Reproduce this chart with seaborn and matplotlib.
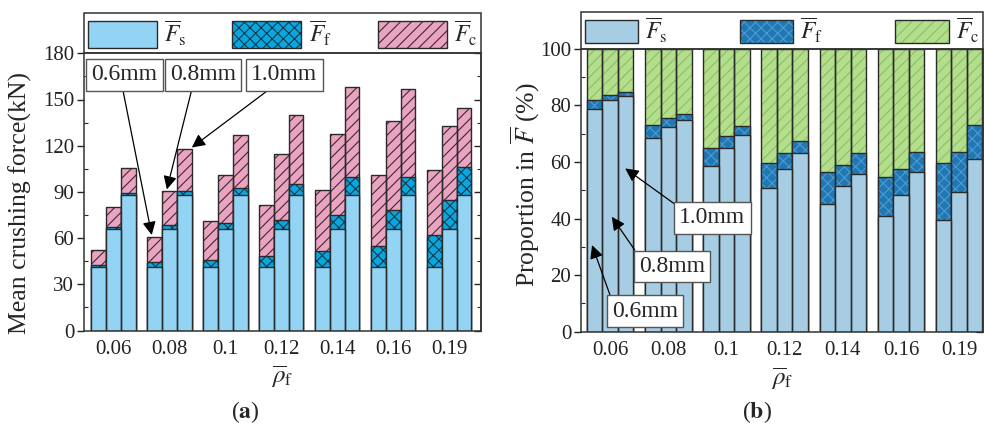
import numpy as np
import pandas as pd
import matplotlib
matplotlib.use("Agg")
import matplotlib.pyplot as plt
import seaborn as sns
from matplotlib.patches import Patch, Rectangle
from matplotlib.legend_handler import HandlerTuple
from matplotlib.ticker import MultipleLocator

# ---------------- data ----------------
rho_labels = ["0.06", "0.08", "0.1", "0.12", "0.14", "0.16", "0.19"]
thickness = ["0.6mm", "0.8mm", "1.0mm"]

# (a) mean crushing force components (kN)
Fs_a = {
    "0.6mm": [41.2, 41.2, 41.2, 41.2, 41.2, 41.2, 41.2],
    "0.8mm": [66.0, 66.0, 66.0, 66.0, 66.0, 66.0, 66.0],
    "1.0mm": [88.0, 88.0, 88.0, 88.0, 88.0, 88.0, 88.0],
}
Ff_a = {
    "0.6mm": [1.5, 3.3, 4.8, 7.4, 10.2, 13.9, 20.7],
    "0.8mm": [1.0, 2.6, 3.9, 6.0, 9.1, 12.1, 18.7],
    "1.0mm": [1.5, 2.5, 4.3, 7.0, 12.0, 12.0, 18.2],
}
Fc_a = {
    "0.6mm": [9.8, 16.3, 24.8, 32.6, 39.8, 45.9, 42.3],
    "0.8mm": [13.4, 21.9, 31.1, 42.3, 52.2, 57.7, 48.3],
    "1.0mm": [16.3, 27.2, 34.7, 44.9, 58.4, 56.9, 38.5],
}

# (b) proportion in mean force (%)
Fs_b = {
    "0.6mm": [78.8, 68.3, 58.4, 50.9, 45.2, 40.9, 39.6],
    "0.8mm": [81.9, 72.4, 64.8, 57.4, 51.6, 48.2, 49.3],
    "1.0mm": [83.4, 74.8, 69.5, 63.0, 55.8, 56.3, 61.0],
}
Ff_b = {
    "0.6mm": [3.0, 4.6, 6.4, 8.8, 11.1, 13.7, 19.9],
    "0.8mm": [1.7, 3.0, 4.2, 5.6, 7.3, 9.3, 14.3],
    "1.0mm": [1.4, 2.1, 3.1, 4.5, 7.3, 7.3, 12.1],
}
Fc_b = {
    "0.6mm": [18.2, 27.1, 35.2, 40.3, 43.7, 45.4, 40.5],
    "0.8mm": [16.4, 24.6, 31.0, 37.0, 41.1, 42.5, 36.4],
    "1.0mm": [15.2, 23.1, 27.4, 32.5, 36.9, 36.4, 26.9],
}

# ---------------- style ----------------
sns.set_theme(style="ticks")
plt.rcParams["font.family"] = ["Liberation Serif", "DejaVu Serif"]
plt.rcParams["mathtext.fontset"] = "stix"
plt.rcParams["hatch.linewidth"] = 0.8
EDGE = "#2a2a2a"

fig = plt.figure(figsize=(9.84, 4.28), dpi=100)
ax_a = fig.add_axes([84 / 984, 1 - 330.5 / 428, 397 / 984, 277.2 / 428])
ax_b = fig.add_axes([581 / 984, 1 - 331.7 / 428, 402 / 984, 283 / 428])


def to_long(tops):
    rows = []
    for t in thickness:
        for r, v in zip(rho_labels, tops[t]):
            rows.append({"rho": r, "thk": t, "val": v})
    return pd.DataFrame(rows)


def draw_layer(ax, tops, face, hatch, hatch_color):
    df = to_long(tops)
    common = dict(data=df, x="rho", y="val", hue="thk", order=rho_labels,
                  hue_order=thickness, width=0.8, dodge=True, errorbar=None,
                  legend=False, ax=ax, saturation=1)
    sns.barplot(palette=[face] * 3, hatch=hatch, edgecolor=hatch_color,
                linewidth=0, **common)
    sns.barplot(palette=[EDGE] * 3, fill=False, linewidth=1.0, **common)


def stacked(Fs, Ff, Fc):
    s = {t: np.array(Fs[t]) for t in thickness}
    m = {t: s[t] + np.array(Ff[t]) for t in thickness}
    tot = {t: m[t] + np.array(Fc[t]) for t in thickness}
    return s, m, tot


panels = [
    (ax_a, (Fs_a, Ff_a, Fc_a),
     [("#93d4f4", None, EDGE), ("#0aa6de", "xxx", "#123a4c"), ("#eaa4c1", "///", "#3a2a30")],
     (0, 180), 30, 15, (-0.52, 6.57)),
    (ax_b, (Fs_b, Ff_b, Fc_b),
     [("#a6cde3", None, EDGE), ("#1f78b4", "xxx", "#4f9bd0"), ("#b3de8c", "///", "#8cbf66")],
     (0, 100), 20, 10, (-0.5, 6.41)),
]

for ax, (Fs, Ff, Fc), styles, ylim, major, minor, xlim in panels:
    s, m, tot = stacked(Fs, Ff, Fc)
    draw_layer(ax, tot, styles[2][0], styles[2][1], styles[2][2])
    draw_layer(ax, m, styles[1][0], styles[1][1], styles[1][2])
    draw_layer(ax, s, styles[0][0], styles[0][1], styles[0][2])
    ax.set_ylim(*ylim)
    ax.set_xlim(*xlim)
    ax.yaxis.set_major_locator(MultipleLocator(major))
    ax.yaxis.set_minor_locator(MultipleLocator(minor))
    ax.tick_params(axis="y", which="major", direction="out", length=5, width=1,
                   labelsize=15, pad=2, colors="#222")
    ax.tick_params(axis="y", which="minor", direction="in", length=3, width=0.8)
    ax.tick_params(axis="x", length=0, labelsize=15, pad=7, colors="#222")
    sec = ax.secondary_yaxis("right")
    sec.yaxis.set_major_locator(MultipleLocator(major))
    sec.yaxis.set_minor_locator(MultipleLocator(minor))
    sec.tick_params(which="major", direction="in", length=5, width=1, labelright=False)
    sec.tick_params(which="minor", direction="in", length=3, width=0.8)
    for sp in list(ax.spines.values()) + [sec.spines["right"]]:
        sp.set_linewidth(1.1)
        sp.set_color("#333")
    ax.set_xlabel(r"$\overline{\rho}_{\mathrm{f}}$", fontsize=18, labelpad=3)

    # legend frame box above the axes
    h = 40 / (ax.bbox.height) if ax is ax_a else 36.5 / ax.bbox.height
    ax.add_patch(Rectangle((0, 1), 1, h, transform=ax.transAxes, fill=False,
                           edgecolor="#333", linewidth=1.1, clip_on=False))
    labels = [r"$\overline{F}_{\mathrm{s}}$", r"$\overline{F}_{\mathrm{f}}$",
              r"$\overline{F}_{\mathrm{c}}$"]
    handles = []
    for face, hatch, hc in styles:
        handles.append((Patch(facecolor=face, hatch=hatch, edgecolor=hc, linewidth=0),
                        Patch(facecolor="none", edgecolor=EDGE, linewidth=1.0)))
    if ax is ax_a:
        hl, hh = 2.93, 1.35
    else:
        hl, hh = 2.26, 1.15
    ax.legend(handles, labels, handler_map={tuple: HandlerTuple(ndivide=1)},
              loc="center left", bbox_to_anchor=(0.0, 1 + h / 2, 1, 0),
              mode="expand", ncol=3, frameon=False, fontsize=17,
              handlelength=hl, handleheight=hh, handletextpad=0.3,
              borderaxespad=0, borderpad=0.15)

ax_a.set_ylabel("Mean crushing force(kN)", fontsize=18.5)
ax_a.yaxis.set_label_coords(-0.131, 0.46)
ax_b.set_ylabel(r"Proportion in $\overline{F}$ (%)", fontsize=18.5)
ax_b.yaxis.set_label_coords(-0.097, 0.518)

# annotations
arrow = dict(arrowstyle="-|>", color="black", lw=0.9, mutation_scale=20,
             shrinkA=0, shrinkB=0)
box = dict(boxstyle="square,pad=0.22", fc="white", ec="#555", lw=1.0)
ann_a = [("0.6mm", (0.69, 62.0), (0.205, 166.0), (0.46, 0)),
         ("0.8mm", (0.96, 91.6), (1.60, 166.0), (0.35, 0)),
         ("1.0mm", (1.405, 118.8), (3.06, 166.0), (0.35, 0))]
for txt, tip, cen, rel in ann_a:
    a = dict(arrow, relpos=rel)
    ax_a.annotate(txt, xy=tip, xytext=cen, ha="center", va="center",
                  fontsize=17, bbox=box, arrowprops=a, zorder=10)
ann_b = [("1.0mm", (0.26, 57.7), (1.76, 40.2)),
         ("0.8mm", (0.03, 40.6), (1.06, 23.1)),
         ("0.6mm", (-0.31, 30.6), (0.60, 7.3))]
for txt, tip, cen in ann_b:
    a = dict(arrow, relpos=(0, 1))
    ax_b.annotate(txt, xy=tip, xytext=cen, ha="center", va="center",
                  fontsize=17, bbox=box, arrowprops=a, zorder=10)

fig.text(245 / 984, 1 - 412 / 428, r"($\mathbf{a}$)", ha="center", va="center", fontsize=17)
fig.text(757 / 984, 1 - 412 / 428, r"($\mathbf{b}$)", ha="center", va="center", fontsize=17)

fig.savefig("out.png", dpi=100)
